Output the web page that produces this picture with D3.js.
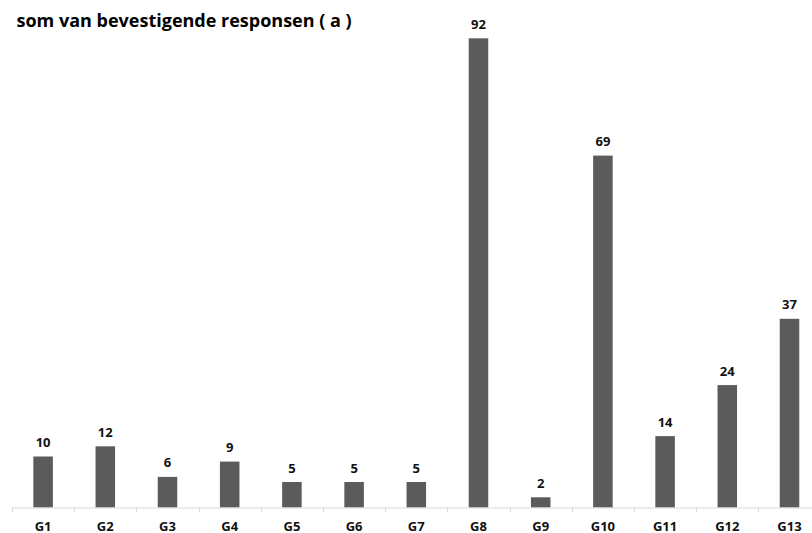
<!DOCTYPE html>
<html>
<head>
<meta charset="utf-8">
<script src="https://cdn.jsdelivr.net/npm/d3@7"></script>
<style>
  html, body { margin: 0; padding: 0; background: #fff; }
  svg { display: block; }
  text { font-family: "Open Sans", "Liberation Sans", sans-serif; font-weight: bold; }
</style>
</head>
<body>
<div id="chart"></div>
<script>
// Category names and counts of affirmative responses
const categories = ["G1", "G2", "G3", "G4", "G5", "G6", "G7", "G8", "G9", "G10", "G11", "G12", "G13"];
const values = [10, 12, 6, 9, 5, 5, 5, 92, 2, 69, 14, 24, 37];
const title = "som van bevestigende responsen ( a )";

const width = 812, height = 533;
const svg = d3.select("#chart").append("svg")
  .attr("width", width).attr("height", height);

// Plot area runs slightly past the right edge of the window
const x = d3.scaleBand()
  .domain(categories)
  .range([12, 820.6])
  .paddingInner(0.686)
  .paddingOuter(0.343);

const y = d3.scaleLinear()
  .domain([0, 92])
  .range([507.5, 38.3]);

// Bars
svg.append("g").selectAll("rect")
  .data(categories)
  .join("rect")
  .attr("x", (d) => x(d))
  .attr("width", x.bandwidth())
  .attr("y", (d, i) => y(values[i]))
  .attr("height", (d, i) => y(0) - y(values[i]))
  .attr("fill", "#5b5b5b");

// Value labels
svg.append("g").selectAll("text")
  .data(categories)
  .join("text")
  .attr("x", (d) => x(d) + x.bandwidth() / 2)
  .attr("y", (d, i) => y(values[i]) - 9.5)
  .attr("text-anchor", "middle")
  .attr("font-size", 13)
  .attr("fill", "#111")
  .text((d, i) => values[i]);

// Category axis: light baseline with ticks at band boundaries
const axisG = svg.append("g");
const step = x.step();
const x0 = x.range()[0];
axisG.append("line")
  .attr("x1", x0).attr("x2", x.range()[1])
  .attr("y1", y(0) + 0.5).attr("y2", y(0) + 0.5)
  .attr("stroke", "#d9d9d9").attr("stroke-width", 1);
axisG.selectAll("line.tick")
  .data(d3.range(categories.length + 1))
  .join("line")
  .attr("class", "tick")
  .attr("x1", (i) => Math.round(x0 + i * step) + 0.5)
  .attr("x2", (i) => Math.round(x0 + i * step) + 0.5)
  .attr("y1", y(0)).attr("y2", y(0) + 5)
  .attr("stroke", "#d9d9d9").attr("stroke-width", 1);
axisG.selectAll("text")
  .data(categories)
  .join("text")
  .attr("x", (d) => x(d) + x.bandwidth() / 2)
  .attr("y", 530.5)
  .attr("text-anchor", "middle")
  .attr("font-size", 13)
  .attr("fill", "#111")
  .text((d) => d);

// Title
svg.append("text")
  .attr("x", 16.5)
  .attr("y", 26.5)
  .attr("font-size", 18)
  .attr("fill", "#000")
  .text(title);
</script>
</body>
</html>
